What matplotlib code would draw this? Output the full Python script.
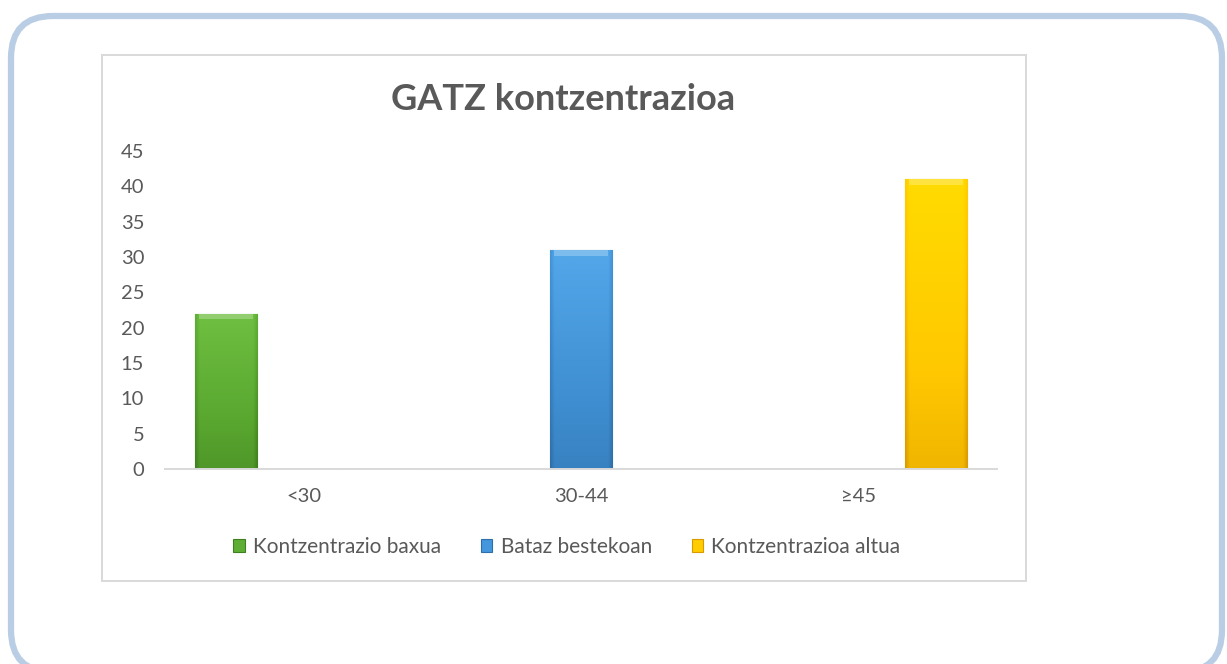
import matplotlib
matplotlib.use("Agg")
import matplotlib.pyplot as plt
import numpy as np
from matplotlib.patches import FancyBboxPatch, Rectangle
from matplotlib.colors import LinearSegmentedColormap

plt.rcParams['font.family'] = ['Lato', 'DejaVu Sans']

categories = ["<30", "30-44", "≥45"]
series_names = ["Kontzentrazio baxua", "Bataz bestekoan", "Kontzentrazioa altua"]
series_values = [
    [22, 0, 0],
    [0, 31, 0],
    [0, 0, 41],
]
title = "GATZ kontzentrazioa"
yticks = [0, 5, 10, 15, 20, 25, 30, 35, 40, 45]

base_colors = ["#5fae34", "#4497dc", "#ffcc00"]
grad_colors = [
    ("#74c546", "#5aa830", "#3f7f1f"),
    ("#58aef0", "#3f8fd2", "#2f6ea8"),
    ("#ffe000", "#ffc800", "#d99a00"),
]
text_color = "#595959"

W, H = 1227, 664
fig = plt.figure(figsize=(W / 100, H / 100), dpi=100)
fig.patch.set_facecolor("white")

# background axes in pixel coordinates
bg = fig.add_axes([0, 0, 1, 1])
bg.set_xlim(0, W)
bg.set_ylim(H, 0)
bg.axis("off")
outer = FancyBboxPatch((11, 16), 1222 - 11, 672 - 16,
                       boxstyle="round,pad=0,rounding_size=42",
                       facecolor="white", edgecolor="#b9cde5", linewidth=4.5)
bg.add_patch(outer)
inner = Rectangle((101.5, 55), 1026 - 101.5, 581 - 55,
                  facecolor="white", edgecolor="#d9d9d9", linewidth=1.4)
bg.add_patch(inner)

# main axes
left, right = 165, 997
y0, y45 = 469, 151
ax = fig.add_axes([left / W, (H - y0) / H, (right - left) / W, (y0 - y45) / H])
ax.set_facecolor("none")

n = len(series_names)
bar_w = 0.224
step = 0.28
x = np.arange(len(categories))
for i, (name, vals) in enumerate(zip(series_names, series_values)):
    offs = (i - (n - 1) / 2) * step
    bars = ax.bar(x + offs, vals, width=bar_w, color=base_colors[i],
                  edgecolor=grad_colors[i][2], linewidth=0.8, label=name, zorder=2)
    cmap = LinearSegmentedColormap.from_list("g%d" % i, list(grad_colors[i]))
    for b in bars:
        h = b.get_height()
        if h <= 0:
            continue
        bx, bw = b.get_x(), b.get_width()
        xs = np.linspace(0, 1, 60)
        ys = np.linspace(0, 1, 200)
        X, Y = np.meshgrid(xs, ys)
        edge = np.minimum(np.minimum(X, 1 - X) / 0.07, 1.0)
        val = 0.1 + 0.6 * (1 - Y) + 0.3 * (1 - edge)
        im = ax.imshow(val, extent=[bx, bx + bw, 0, h], origin="lower",
                       cmap=cmap, vmin=0, vmax=1, aspect="auto", zorder=3,
                       interpolation="bilinear")
        im.set_clip_path(b)
        ax.add_patch(Rectangle((bx + bw * 0.07, h - 0.8), bw * 0.86, 0.8,
                               facecolor="white", alpha=0.25, edgecolor="none", zorder=4))
ax.set_xlim(-0.5, len(categories) - 0.5)
ax.set_ylim(0, 45)

for s in ["left", "right", "top"]:
    ax.spines[s].set_visible(False)
ax.spines["bottom"].set_color("#d9d9d9")
ax.spines["bottom"].set_linewidth(1.4)
ax.spines["bottom"].set_zorder(5)

ax.set_xticks(x)
ax.set_xticklabels(categories)
ax.set_yticks(yticks)
ax.tick_params(axis="y", length=0, pad=15, labelsize=14.5, labelcolor=text_color)
ax.tick_params(axis="x", length=0, pad=14, labelsize=14.5, labelcolor=text_color)

fig.text(563 / W, 1 - 100 / H, title, ha="center", va="center",
         fontsize=26, fontweight="bold", color=text_color)

handles, labels = ax.get_legend_handles_labels()
leg = fig.legend(handles, labels, loc="center", bbox_to_anchor=(567 / W, 1 - 547 / H),
                 ncol=3, frameon=False, fontsize=15, labelcolor=text_color,
                 handlelength=0.55, handleheight=0.55, handletextpad=0.4, columnspacing=1.9)

fig.savefig("out.png", dpi=100)
